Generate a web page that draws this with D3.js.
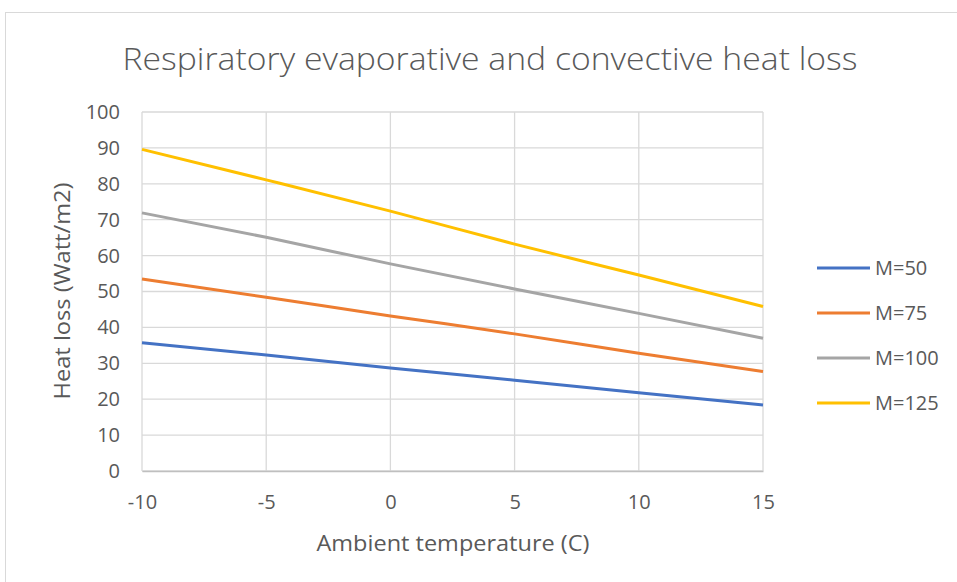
<!DOCTYPE html>
<html>
<head>
<meta charset="utf-8">
<script src="https://cdn.jsdelivr.net/npm/d3@7"></script>
<style>
  body { margin: 0; background: #fff; }
  text { font-family: "Open Sans", "Noto Sans", sans-serif; fill: #595959; }
</style>
</head>
<body>
<script>
// data
var temps = [-10, -5, 0, 5, 10, 15];
var seriesNames = ["M=50", "M=75", "M=100", "M=125"];
var m50 = [35.7, 32.3, 28.7, 25.3, 21.8, 18.4];
var m75 = [53.5, 48.4, 43.2, 38.2, 32.8, 27.7];
var m100 = [71.9, 65.1, 57.7, 50.7, 43.9, 37.0];
var m125 = [89.6, 81.1, 72.4, 63.2, 54.6, 45.8];
var colors = ["#4472C4", "#ED7D31", "#A5A5A5", "#FFC000"];
var xTicks = [-10, -5, 0, 5, 10, 15];
var yTicks = [0, 10, 20, 30, 40, 50, 60, 70, 80, 90, 100];

var allSeries = [m50, m75, m100, m125];

var W = 957, H = 582;
var margin = {top: 112, right: 194, bottom: 111, left: 142},
    width = W - margin.left - margin.right,
    height = H - margin.top - margin.bottom;

var svg = d3.select("body").append("svg")
    .attr("width", W)
    .attr("height", H);

// chart border
svg.append("rect")
    .attr("x", 5.5).attr("y", 12.5)
    .attr("width", W).attr("height", H)
    .attr("fill", "none").attr("stroke", "#d9d9d9");

var g = svg.append("g")
    .attr("transform", "translate(" + margin.left + "," + margin.top + ")");

var x = d3.scaleLinear().domain([-10, 15]).range([0, width]);
var y = d3.scaleLinear().domain([0, 100]).range([height, 0]);

// gridlines
g.selectAll(".hgrid").data(yTicks).enter().append("line")
    .attr("x1", 0).attr("x2", width)
    .attr("y1", function(d) { return y(d); }).attr("y2", function(d) { return y(d); })
    .attr("stroke", "#d9d9d9").attr("stroke-width", 1.3);
g.selectAll(".vgrid").data(xTicks).enter().append("line")
    .attr("y1", 0).attr("y2", height)
    .attr("x1", function(d) { return x(d); }).attr("x2", function(d) { return x(d); })
    .attr("stroke", "#d9d9d9").attr("stroke-width", 1.3);

// axes (hyphen minus like the original)
var fmt = function(d) { return String(d); };
var xAxis = g.append("g")
    .attr("transform", "translate(0," + height + ")")
    .call(d3.axisBottom(x).tickValues(xTicks).tickSize(0).tickPadding(24).tickFormat(fmt));
xAxis.select(".domain").attr("stroke", "#bfbfbf").attr("stroke-width", 1.3);
xAxis.selectAll("text").style("font-size", "20px").attr("fill", "#595959");

var yAxis = g.append("g")
    .call(d3.axisLeft(y).tickValues(yTicks).tickSize(0).tickPadding(22).tickFormat(fmt));
yAxis.select(".domain").remove();
yAxis.selectAll("text").style("font-size", "20px").attr("fill", "#595959");

// lines
var line = d3.line()
    .x(function(d, i) { return x(temps[i]); })
    .y(function(d) { return y(d); })
    .curve(d3.curveMonotoneX);

g.selectAll(".series").data(allSeries).enter().append("path")
    .attr("d", line)
    .attr("fill", "none")
    .attr("stroke", function(d, i) { return colors[i]; })
    .attr("stroke-width", 3);

// title
svg.append("text")
    .attr("x", 490).attr("y", 70)
    .attr("text-anchor", "middle")
    .attr("textLength", 735)
    .attr("lengthAdjust", "spacingAndGlyphs")
    .style("font-size", "31px")
    .style("font-weight", 300)
    .text("Respiratory evaporative and convective heat loss");

// axis titles
svg.append("text")
    .attr("x", 453).attr("y", 551)
    .attr("text-anchor", "middle")
    .attr("textLength", 273)
    .attr("lengthAdjust", "spacingAndGlyphs")
    .style("font-size", "22px")
    .text("Ambient temperature (C)");

svg.append("text")
    .attr("transform", "translate(70,291) rotate(-90)")
    .attr("text-anchor", "middle")
    .attr("textLength", 217)
    .attr("lengthAdjust", "spacingAndGlyphs")
    .style("font-size", "22px")
    .text("Heat loss (Watt/m2)");

// legend
var legend = svg.selectAll(".legend").data(seriesNames).enter().append("g")
    .attr("transform", function(d, i) { return "translate(817," + (268 + i * 45) + ")"; });
legend.append("line")
    .attr("x1", 0).attr("x2", 53)
    .attr("stroke", function(d, i) { return colors[i]; })
    .attr("stroke-width", 3);
legend.append("text")
    .attr("x", 58).attr("y", 7)
    .style("font-size", "20px")
    .text(function(d) { return d; });
</script>
</body>
</html>
